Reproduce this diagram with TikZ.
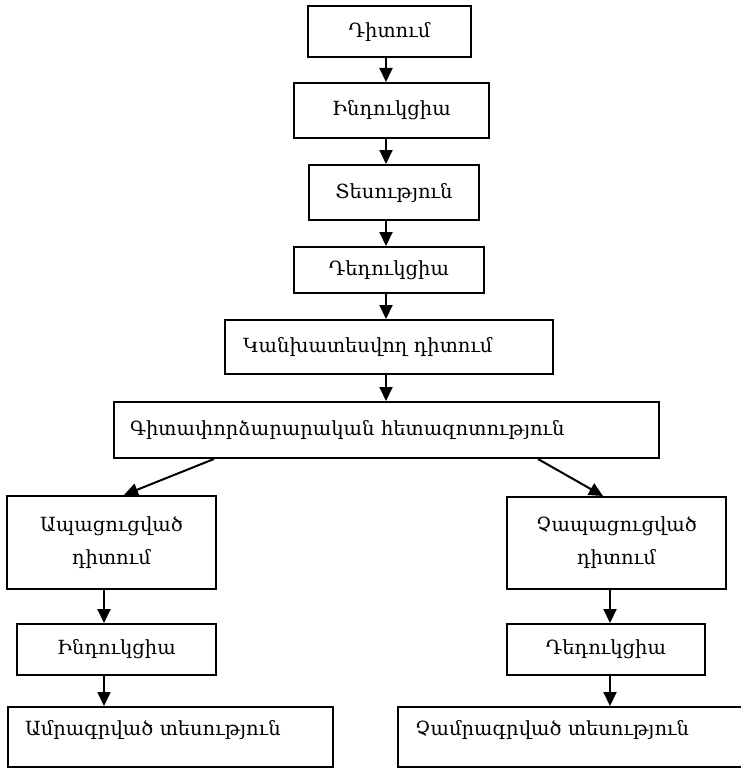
\documentclass[tikz,border=0pt]{standalone}
\usepackage{fontspec}
\setmainfont{DejaVu Serif}
\usetikzlibrary{arrows.meta}
\begin{document}
\begin{tikzpicture}[x=1pt,y=-1pt,
  box/.style={draw, line width=2pt, inner sep=0pt, font=\fontsize{19.5}{33}\selectfont},
  lbox/.style={box, align=left},
  arr/.style={line width=2pt, -{Triangle[length=14pt,width=13pt]}}]
\useasboundingbox (0,0) rectangle (740,768);
\coordinate (colx) at (386,0);
\coordinate (leftx) at (104,0);
\coordinate (rightx) at (610,0);
\node[box, minimum width=163pt, minimum height=51pt] (b1) at (389.5,31.5) {Դիտում};
\node[box, minimum width=195pt, minimum height=55pt] (b2) at (391.5,110.5) {Ինդուկցիա};
\node[box, minimum width=170pt, minimum height=55pt] (b3) at (394,192.5) {Տեսություն};
\node[box, minimum width=190pt, minimum height=46pt] (b4) at (389,270) {Դեդուկցիա};
\node[lbox, text width=292pt, inner xsep=18pt, minimum height=54pt] (b5) at (389,347) {Կանխատեսվող դիտում};
\node[lbox, text width=513pt, inner xsep=16pt, minimum height=56pt] (b6) at (386.5,430) {Գիտափորձարարական հետազոտություն};
\node[box, align=center, minimum width=209pt, minimum height=93pt] (b7) at (111.5,542.5) {Ապացուցված\\դիտում};
\node[box, align=center, minimum width=219pt, minimum height=92pt] (b8) at (616.5,543) {Չապացուցված\\դիտում};
\node[box, minimum width=199pt, minimum height=51pt] (b9) at (116.5,649.5) {Ինդուկցիա};
\node[box, minimum width=198pt, minimum height=51pt] (b10) at (606,649.5) {Դեդուկցիա};
\node[lbox, text width=291pt, inner xsep=17pt, text height=28pt, text depth=32pt] (b11) at (170.5,737) {Ամրագրված տեսություն};
\node[lbox, text width=318pt, inner xsep=17pt, text height=28pt, text depth=32pt] (b12) at (574,737) {Չամրագրված տեսություն};
\draw[arr] (b1.south -| colx) -- (b2.north -| colx);
\draw[arr] (b2.south -| colx) -- (b3.north -| colx);
\draw[arr] (b3.south -| colx) -- (b4.north -| colx);
\draw[arr] (b4.south -| colx) -- (b5.north -| colx);
\draw[arr] (b5.south -| colx) -- (b6.north -| colx);
\draw[arr] ([xshift=101pt]b6.south west) -- ([xshift=118pt]b7.north west);
\draw[arr] ([xshift=-122pt]b6.south east) -- ([xshift=97pt]b8.north west);
\draw[arr] (b7.south -| leftx) -- (b9.north -| leftx);
\draw[arr] (b9.south -| leftx) -- (b11.north -| leftx);
\draw[arr] (b8.south -| rightx) -- (b10.north -| rightx);
\draw[arr] (b10.south -| rightx) -- (b12.north -| rightx);
\end{tikzpicture}
\end{document}
